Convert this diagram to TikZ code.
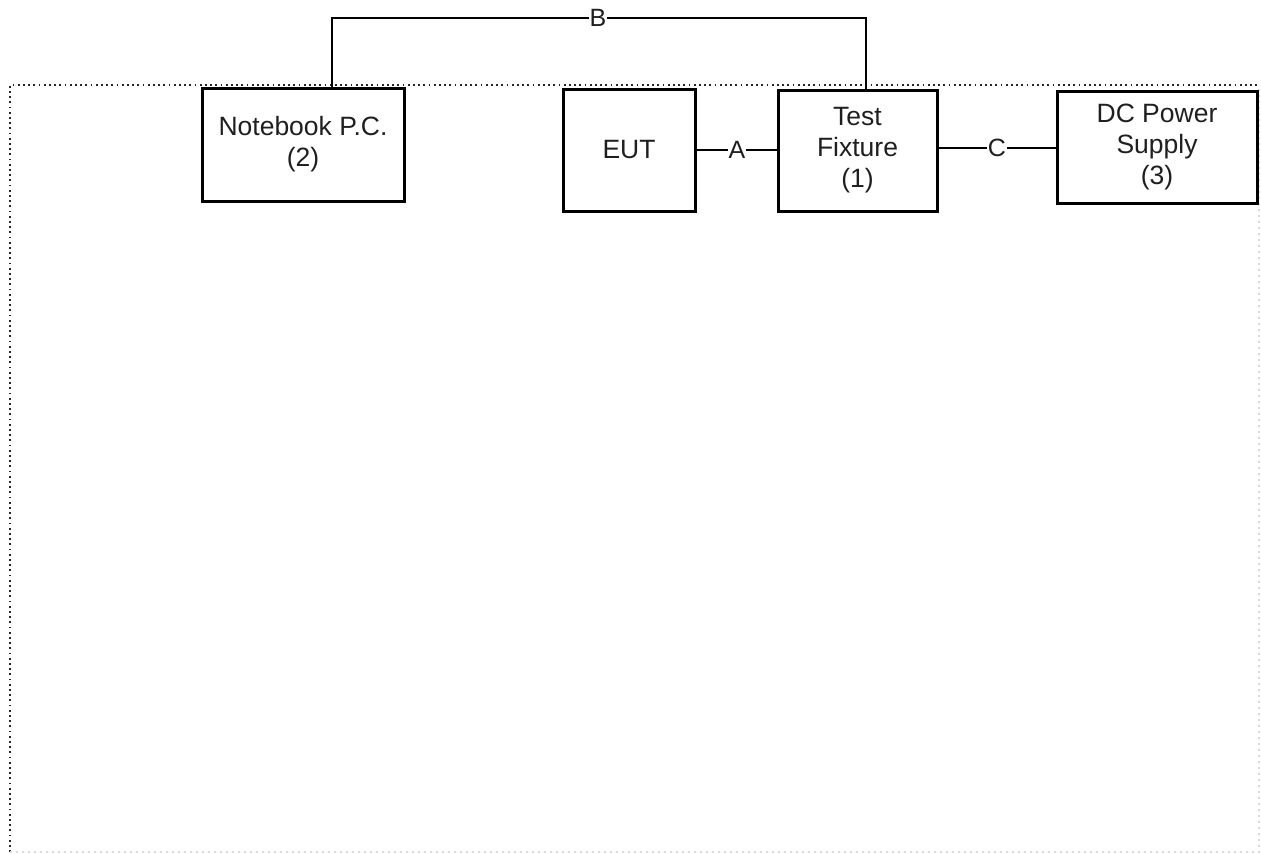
\documentclass[tikz,border=0pt]{standalone}
\usepackage{fontspec}
\setmainfont{Liberation Sans}
\begin{document}
\begin{tikzpicture}[x=1pt,y=-1pt,
  box/.style={draw=black,line width=3pt,inner sep=0pt,align=center,text=black!88,
    font=\fontsize{26.5}{31}\selectfont},
  wire/.style={line width=2.6pt},
  lbl/.style={fill=white,inner sep=0.5pt,text=black!88,font=\fontsize{25}{28}\selectfont}]
\useasboundingbox (0,0) rectangle (1261,854);
% dotted frame
\draw[line width=2.6pt,dash pattern=on 1.8pt off 3.4pt,black!85] (10,852) -- (10,85) -- (1259,85);
\draw[line width=1.8pt,dash pattern=on 2pt off 4pt,black!14] (10,852) -- (1259,852) -- (1259,85);
% boxes
\node[box,minimum width=202pt,minimum height=113pt] (nb) at (303,144.5) {Notebook P.C.\\(2)};
\node[box,minimum width=132pt,minimum height=122pt] (eut) at (629,150) {EUT};
\node[box,minimum width=159pt,minimum height=121pt] (tf) at (857.5,150.5) {Test\\Fixture\\(1)};
\node[box,minimum width=200pt,minimum height=112pt] (ps) at (1157,147) {DC Power\\Supply\\(3)};
% connectors
\coordinate (b1) at (332,18);
\coordinate (b2) at (866,18);
\draw[wire] (nb.north -| b1) -- (b1) -- (b2) -- (tf.north -| b2);
\node[lbl] (lb) at (598,18) {B};
\draw[wire] (eut.east) -- (tf.west |- eut.east);
\node[lbl] (la) at (737,150) {A};
\coordinate (c1) at (937,148);
\draw[wire] (c1) -- (ps.west |- c1);
\node[lbl] (lc) at (997,148) {C};
\end{tikzpicture}
\end{document}
